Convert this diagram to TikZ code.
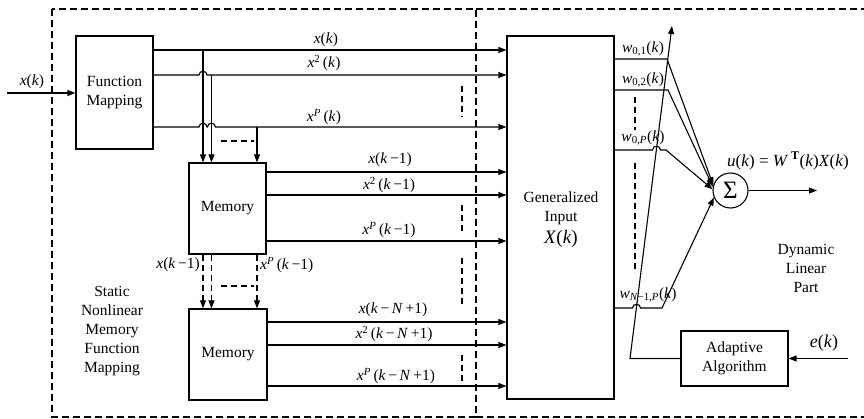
\documentclass[tikz,border=0pt]{standalone}
\usepackage{fontspec}
\setmainfont{Liberation Serif}
\usetikzlibrary{arrows.meta,calc}
\newcommand{\iv}[1]{\textit{#1}}
\begin{document}
\begin{tikzpicture}[x=1pt,y=-1pt,
  every node/.style={font=\fontsize{15.5}{19}\selectfont},
  blk/.style={draw, line width=1.1pt, inner sep=0pt},
  wire/.style={line width=1.1pt},
  arr/.style={wire,-{Triangle[length=8pt,width=6pt]}},
  frame/.style={line width=1.1pt, dash pattern=on 7pt off 4pt},
  gap/.style={line width=1.1pt, dash pattern=on 6pt off 4pt},
  lbl/.style={inner sep=0pt},
  txt/.style={align=center, inner sep=0pt},
]
\useasboundingbox (0,0) rectangle (864,419);

% dashed frames of the two parts
\draw[frame] (52,9) rectangle (476,417);
\draw[frame] (476,9) -- (864,9);
\draw[frame] (476,417) -- (864,417);

% blocks
\node[blk, minimum width=77pt, minimum height=113pt] (fm) at (114.5,92.5) {};
\node[txt] at (114.5,92.5) {Function\\Mapping};
\node[blk, minimum width=77pt, minimum height=91pt] (m1) at (227.5,208.5) {};
\node[txt] at (227.5,208) {Memory};
\node[blk, minimum width=78pt, minimum height=91pt] (m2) at (228,354.5) {};
\node[txt] at (228,354) {Memory};
\node[blk, minimum width=107pt, minimum height=363pt] (gi) at (560.5,217.5) {};
\node[txt] (gitext) at (561,220) {Generalized\\Input\\[3pt]{\fontsize{19}{19}\selectfont\iv{X}(\iv{k})}};
\node[blk, minimum width=107pt, minimum height=55pt] (aa) at (734.5,358.5) {};
\node[txt] at (734.5,358.5) {Adaptive\\Algorithm};
\node[draw, circle, line width=1.1pt, minimum size=35pt, inner sep=0pt] (sum) at (730.5,190.5) {\fontsize{25}{25}\selectfont Σ};

% region captions
\node[txt] (stat) at (112,331) {Static\\Nonlinear\\Memory\\Function\\Mapping};
\node[txt] (dyn) at (806,268) {Dynamic\\Linear\\Part};

% input
\coordinate (xin) at (7,93);
\draw[arr] (xin) -- (xin -| fm.west);
\node[lbl] at (32,82) {\iv{x}(\iv{k})};

% outputs of the function mapping
\draw[arr] (fm.east |- 0,50) -- (gi.west |- 0,50);
\draw[arr] (fm.east |- 0,75) -- (199,75) .. controls (199,70) and (207,70) .. (207,75) -- (gi.west |- 0,75);
\draw[arr] (fm.east |- 0,127) -- (199,127) .. controls (199,122) and (207,122) .. (207,127)
  -- (207.5,127) .. controls (207.5,122) and (215.5,122) .. (215.5,127) -- (gi.west |- 0,127);
\node[lbl] at (326,40) {\iv{x}(\iv{k})};
\node[lbl] at (324,63) {\iv{x}\textsuperscript{2}\,(\iv{k})};
\node[lbl] at (324,117) {\iv{x}\textsuperscript{\iv{P}}\,(\iv{k})};

% taps into the first memory
\draw[arr] (203,50) -- (203,0 |- m1.north);
\draw[arr] (211.5,75) -- (211.5,0 |- m1.north);
\draw[arr] (257,127) -- (257,0 |- m1.north);
\draw[gap] (221,141) -- (254,141);

% outputs of the first memory
\draw[arr] (m1.east |- 0,172) -- (gi.west |- 0,172);
\draw[arr] (m1.east |- 0,195) -- (gi.west |- 0,195);
\draw[arr] (m1.east |- 0,241) -- (gi.west |- 0,241);
\node[lbl] at (390,160) {\iv{x}(\iv{k}\,−1)};
\node[lbl] at (389,185) {\iv{x}\textsuperscript{2}\,(\iv{k}\,−1)};
\node[lbl] at (389,230) {\iv{x}\textsuperscript{\iv{P}}\,(\iv{k}\,−1)};

% chained delays
\draw[arr, gap] (203,0 |- m1.south) -- (203,0 |- m2.north);
\draw[arr, gap] (211.5,0 |- m1.south) -- (211.5,0 |- m2.north);
\draw[arr, gap] (257,0 |- m1.south) -- (257,0 |- m2.north);
\draw[gap] (221,286) -- (254,286);
\node[lbl, anchor=east] at (200,265) {\iv{x}(\iv{k}\,−1)};
\node[lbl, anchor=west] at (260,265) {\iv{x}\textsuperscript{\iv{P}}\,(\iv{k}\,−1)};

% outputs of the last memory
\draw[arr] (m2.east |- 0,322) -- (gi.west |- 0,322);
\draw[arr] (m2.east |- 0,345) -- (gi.west |- 0,345);
\draw[arr] (m2.east |- 0,386) -- (gi.west |- 0,386);
\node[lbl] at (393,310) {\iv{x}(\iv{k}\,−\,\iv{N}\,+1)};
\node[lbl] at (394,334) {\iv{x}\textsuperscript{2}\,(\iv{k}\,−\,\iv{N}\,+1)};
\node[lbl] at (396,376) {\iv{x}\textsuperscript{\iv{P}}\,(\iv{k}\,−\,\iv{N}\,+1)};

% omitted rows
\draw[gap] (462,86) -- (462,117);
\draw[gap] (462,205) -- (462,234);
\draw[gap] (462,258) -- (462,307);
\draw[gap] (462,355) -- (462,384);

% weighted branches into the summer
\draw[arr] (gi.east |- 0,59) -- (667,59) -- (sum.163);
\draw[arr] (gi.east |- 0,90) -- (668,90) -- (sum.168);
\draw[arr] (gi.east |- 0,150) -- (652.5,150) .. controls (652.5,145) and (660.5,145) .. (660.5,150) -- (666,150) -- (sum.176);
\draw[arr] (gi.east |- 0,308) -- (632.5,308) .. controls (632.5,303) and (640.5,303) .. (640.5,308) -- (662,308) -- (sum.203);
\node[lbl] at (643,49) {\iv{w}\textsubscript{0,1}(\iv{k})};
\node[lbl] at (643,80) {\iv{w}\textsubscript{0,2}(\iv{k})};
\node[lbl] at (643,138) {\iv{w}\textsubscript{0,\iv{P}}(\iv{k})};
\node[lbl] at (648,295) {\iv{w}\textsubscript{\iv{N}−1,\iv{P}}(\iv{k})};
\draw[gap] (635,97) -- (635,130);
\draw[gap] (635,163) -- (635,273);

% output of the summer
\coordinate (uout) at (817,190.5);
\draw[arr] (sum.east) -- (uout);
\node[lbl] at (788,161) {{\fontsize{17}{17}\selectfont\iv{u}(\iv{k}) = \iv{W}\,\textsuperscript{\textbf{T}}(\iv{k})\iv{X}(\iv{k})}};

% adaptation path
\coordinate (bend) at (630,358.5);
\coordinate (adj) at (672,26);
\draw[arr] (aa.west) -- (bend) -- (adj);
\coordinate (ein) at (848,358.5);
\draw[arr] (ein) -- (aa.east);
\node[lbl] at (824,343) {{\fontsize{18}{18}\selectfont\iv{e}(\iv{k})}};
\end{tikzpicture}
\end{document}
